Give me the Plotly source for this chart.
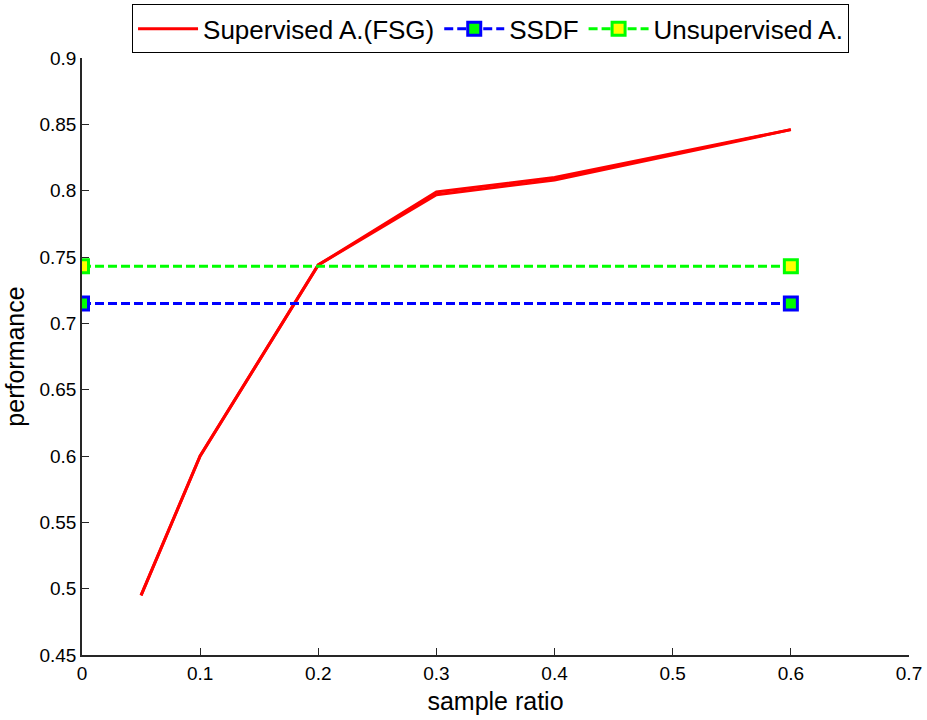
import plotly.graph_objects as go

# Sample ratios and performance values
ratio_sup = [0.05, 0.1, 0.2, 0.3, 0.4, 0.6]
perf_sup_a = [0.495, 0.600, 0.744, 0.797, 0.808, 0.846]
perf_sup_b = [0.495, 0.600, 0.744, 0.799, 0.810, 0.846]

ratio_flat = [0.0, 0.6]
perf_ssdf = [0.715, 0.715]
perf_unsup = [0.743, 0.743]

x_ticks = [0, 0.1, 0.2, 0.3, 0.4, 0.5, 0.6, 0.7]
y_ticks = [0.45, 0.5, 0.55, 0.6, 0.65, 0.7, 0.75, 0.8, 0.85, 0.9]

FONT = "Liberation Sans, Arial, sans-serif"

fig = go.Figure()
fig.add_trace(go.Scatter(
    x=ratio_sup, y=perf_sup_a, mode="lines", name="Supervised A.(FSG)",
    line=dict(color="#ff0000", width=3)))
fig.add_trace(go.Scatter(
    x=ratio_sup, y=perf_sup_b, mode="lines", showlegend=False,
    line=dict(color="#ff0000", width=3)))
fig.add_trace(go.Scatter(
    x=ratio_flat, y=perf_ssdf, mode="lines+markers", name="SSDF",
    line=dict(color="#0000ff", width=3, dash="9px,4px"),
    marker=dict(symbol="square", size=13, color="#00ff00",
                line=dict(color="#0000ff", width=3))))
fig.add_trace(go.Scatter(
    x=ratio_flat, y=perf_unsup, mode="lines+markers", name="Unsupervised A.",
    line=dict(color="#00ff00", width=3, dash="9px,4px"),
    marker=dict(symbol="square", size=13, color="#ffff00",
                line=dict(color="#00ff00", width=3))))

axis_common = dict(
    showline=True, linecolor="#262626", linewidth=1.5,
    ticks="inside", ticklen=7, tickcolor="#262626", tickwidth=1,
    showgrid=False, zeroline=False, mirror=False, automargin=False,
    tickfont=dict(family=FONT, size=19, color="#000000"),
)

fig.update_layout(
    width=927, height=720,
    margin=dict(l=82, r=18, t=58, b=65, autoexpand=False),
    paper_bgcolor="white", plot_bgcolor="white",
    font=dict(family=FONT, color="#000000"),
    xaxis=dict(range=[0, 0.7], tickvals=x_ticks,
               ticktext=[f"{v:g}" for v in x_ticks],
               title=dict(text="sample ratio", font=dict(size=25), standoff=10),
               **axis_common),
    yaxis=dict(range=[0.45, 0.9], tickvals=y_ticks,
               ticktext=[f"{v:g}" for v in y_ticks],
               title=dict(text="performance", font=dict(size=25), standoff=8),
               **axis_common),
    legend=dict(orientation="h", x=0.494, xanchor="center",
                y=0.994, yanchor="top", yref="container",
                bordercolor="#000000", borderwidth=1, bgcolor="white",
                font=dict(family=FONT, size=26), itemwidth=60),
    showlegend=True,
)

fig.write_html("out.html")
